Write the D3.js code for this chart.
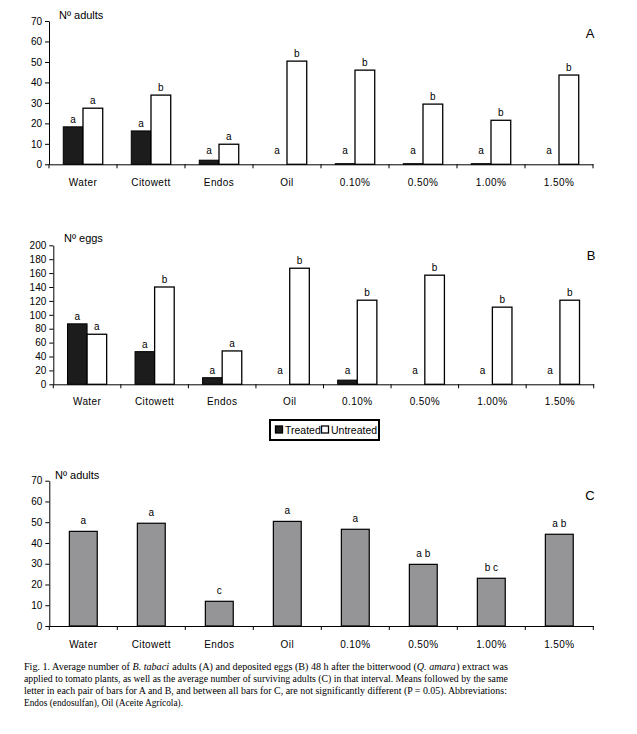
<!DOCTYPE html>
<html><head><meta charset="utf-8">
<script src="https://cdn.jsdelivr.net/npm/d3@7"></script>
<style>
html,body{margin:0;padding:0;background:#fff;}
svg{display:block;}
</style></head>
<body>
<svg id="chart" width="637" height="734"></svg>
<script>
// ---------- data ----------
const categories = ["Water","Citowett","Endos","Oil","0.10%","0.50%","1.00%","1.50%"];

const adultsTreated   = [18.3, 16.3, 2.0, 0, 0.3, 0.3, 0.3, 0];
const adultsUntreated = [27.4, 33.8, 9.8, 50.4, 46.0, 29.4, 21.5, 43.6];
const adultsTreatedLetters   = ["a","a","a","a","a","a","a","a"];
const adultsUntreatedLetters = ["a","b","a","b","b","b","b","b"];

const eggsTreated   = [87, 47, 9.5, 0, 6, 0, 0, 0];
const eggsUntreated = [72, 140, 48, 167, 121, 157, 111, 121];
const eggsTreatedLetters   = ["a","a","a","a","a","a","a","a"];
const eggsUntreatedLetters = ["a","b","a","b","b","b","b","b"];

const survivors = [45.6, 49.5, 11.9, 50.4, 46.6, 29.7, 23.0, 44.2];
const survivorLetters = ["a","a","c","a","a","a b","b c","a b"];

const yTicksAdults = [0,10,20,30,40,50,60,70];
const yTicksEggs = [0,20,40,60,80,100,120,140,160,180,200];

const seriesNames = ["Treated","Untreated"];

const captionLines = [
  [["Fig. 1. Average number of ",0],["B. tabaci",1],[" adults (A) and deposited eggs (B) 48 h after the bitterwood (",0],["Q. amara",1],[") extract was",0]],
  [["applied to tomato plants, as well as the average number of surviving adults (C) in that interval. Means followed by the same",0]],
  [["letter in each pair of bars for A and B, and between all bars for C, are not significantly different (P = 0.05). Abbreviations:",0]],
  [["Endos (endosulfan), Oil (Aceite Agrícola).",0]]
];

// ---------- drawing ----------
const svg = d3.select("#chart");
const FONT = '"Liberation Sans", Arial, sans-serif';

function panel(cfg){
  const g = svg.append("g");
  const x = d3.scaleBand().domain(categories).range([cfg.x0, cfg.x1]);
  const y = d3.scaleLinear().domain([0, cfg.yMax]).range([cfg.y0, cfg.yTop]);

  const ya = g.append("g").attr("transform", `translate(${cfg.x0},0)`)
    .call(d3.axisLeft(y).tickValues(cfg.ticks).tickSize(4).tickPadding(3).tickSizeOuter(0));
  ya.select(".domain").attr("stroke","#000").attr("stroke-width",1);
  ya.selectAll(".tick line").attr("stroke","#000");
  ya.selectAll("text").attr("font-family",FONT).attr("font-size",10).attr("fill","#000");

  const xa = g.append("g").attr("transform", `translate(0,${cfg.y0})`)
    .call(d3.axisBottom(x).tickSize(0).tickPadding(cfg.labelPad).tickSizeOuter(0));
  xa.select(".domain").attr("stroke","#000").attr("stroke-width",1);
  xa.selectAll("text").attr("font-family",FONT).attr("font-size",10).attr("fill","#000")
    .attr("letter-spacing",0.4);
  const bounds = categories.map(c => x(c)).concat([cfg.x1]);
  g.selectAll(".btick").data(bounds).enter().append("line")
    .attr("x1", d=>d).attr("x2", d=>d).attr("y1", cfg.y0).attr("y2", cfg.y0+4)
    .attr("stroke","#000").attr("stroke-width",1);

  g.append("text").attr("x", cfg.titleX).attr("y", cfg.titleY)
    .attr("font-family",FONT).attr("font-size",11).text(cfg.title);
  g.append("text").attr("x", cfg.tagX).attr("y", cfg.tagY).attr("text-anchor","middle")
    .attr("font-family",FONT).attr("font-size",13).text(cfg.tag);

  return {g, x, y};
}

function pairedBars(p, treated, untreated, tl, ul){
  const bw = p.x.bandwidth()*0.29;
  const rows = categories.map((c,i)=>({c, t:treated[i], u:untreated[i], tl:tl[i], ul:ul[i]}));
  const cx = c => p.x(c) + p.x.bandwidth()/2;
  p.g.selectAll(".tb").data(rows).enter().append("rect")
    .attr("x", d=>cx(d.c)-bw).attr("width", bw)
    .attr("y", d=>p.y(d.t)).attr("height", d=>p.y(0)-p.y(d.t))
    .attr("fill","#1c1c1c").attr("stroke", d=> d.t>0 ? "#000":"none").attr("stroke-width",1);
  p.g.selectAll(".ub").data(rows).enter().append("rect")
    .attr("x", d=>cx(d.c)).attr("width", bw)
    .attr("y", d=>p.y(d.u)).attr("height", d=>p.y(0)-p.y(d.u))
    .attr("fill","#fff").attr("stroke","#000").attr("stroke-width",1.3);
  p.g.selectAll(".tl").data(rows).enter().append("text")
    .attr("x", d=>cx(d.c)-bw/2).attr("y", d=>Math.min(p.y(d.t), p.y(0)-6)-4)
    .attr("text-anchor","middle").attr("font-family",FONT).attr("font-size",10).text(d=>d.tl);
  p.g.selectAll(".ul").data(rows).enter().append("text")
    .attr("x", d=>cx(d.c)+bw/2).attr("y", d=>p.y(d.u)-4)
    .attr("text-anchor","middle").attr("font-family",FONT).attr("font-size",10).text(d=>d.ul);
}

// Panel A
const pA = panel({x0:49, x1:593, y0:164.3, yTop:21, yMax:70, ticks:yTicksAdults, labelPad:15,
  title:"Nº adults", titleX:59, titleY:19, tag:"A", tagX:590, tagY:38});
pairedBars(pA, adultsTreated, adultsUntreated, adultsTreatedLetters, adultsUntreatedLetters);

// Panel B
const pB = panel({x0:53.3, x1:593.7, y0:384.3, yTop:245.3, yMax:200, ticks:yTicksEggs, labelPad:14,
  title:"Nº eggs", titleX:64, titleY:242, tag:"B", tagX:591, tagY:260});
pairedBars(pB, eggsTreated, eggsUntreated, eggsTreatedLetters, eggsUntreatedLetters);

// Legend
const lg = svg.append("g");
lg.append("rect").attr("x",270).attr("y",420).attr("width",109).attr("height",20)
  .attr("fill","#fff").attr("stroke","#000").attr("stroke-width",2);
const legItems = lg.selectAll(".li").data(seriesNames).enter().append("g")
  .attr("transform",(d,i)=>`translate(${i===0?275:321},0)`);
legItems.append("rect").attr("x",0.5).attr("y",426).attr("width",7).attr("height",7)
  .attr("fill",(d,i)=>i===0?"#1c1c1c":"#fff").attr("stroke","#000").attr("stroke-width",1.3);
legItems.append("text").attr("x",10).attr("y",433.5).attr("font-family",FONT).attr("font-size",10.5)
  .text(d=>d);

// Panel C
const pC = panel({x0:49.3, x1:593.3, y0:626, yTop:480.7, yMax:70, ticks:yTicksAdults, labelPad:15,
  title:"Nº adults", titleX:55, titleY:479, tag:"C", tagX:590, tagY:500});
{
  const bw = pC.x.bandwidth()*0.41;
  const rows = categories.map((c,i)=>({c, v:survivors[i], l:survivorLetters[i]}));
  pC.g.selectAll(".cb").data(rows).enter().append("rect")
    .attr("x", d=>pC.x(d.c)+pC.x.bandwidth()/2-bw/2).attr("width", bw)
    .attr("y", d=>pC.y(d.v)).attr("height", d=>pC.y(0)-pC.y(d.v))
    .attr("fill","#959597").attr("stroke","#000").attr("stroke-width",1.2);
  pC.g.selectAll(".cl").data(rows).enter().append("text")
    .attr("x", d=>pC.x(d.c)+pC.x.bandwidth()/2).attr("y", d=>pC.y(d.v)-7)
    .attr("text-anchor","middle").attr("font-family",FONT).attr("font-size",10).text(d=>d.l);
}

// Caption: each line is a group of text segments, scaled horizontally to the target width
const capWidths = [484, 484, 483, 159];
const cap = svg.append("g");
captionLines.forEach((line, i) => {
  const lgp = cap.append("g");
  let cx = 0;
  line.forEach(([s, it]) => {
    const t = lgp.append("text").attr("x", cx).attr("y", 0)
      .attr("font-family",'"Liberation Serif","Times New Roman",serif').attr("font-size",10.4)
      .attr("font-style", it ? "italic" : "normal").attr("xml:space","preserve")
      .style("white-space","pre").text(s);
    cx += t.node().getComputedTextLength() + (it ? 0.8 : 0);
  });
  const sx = capWidths[i] / cx;
  lgp.attr("transform", `translate(24,${669.5 + i*12}) scale(${sx},1)`);
});
</script>
</body></html>
